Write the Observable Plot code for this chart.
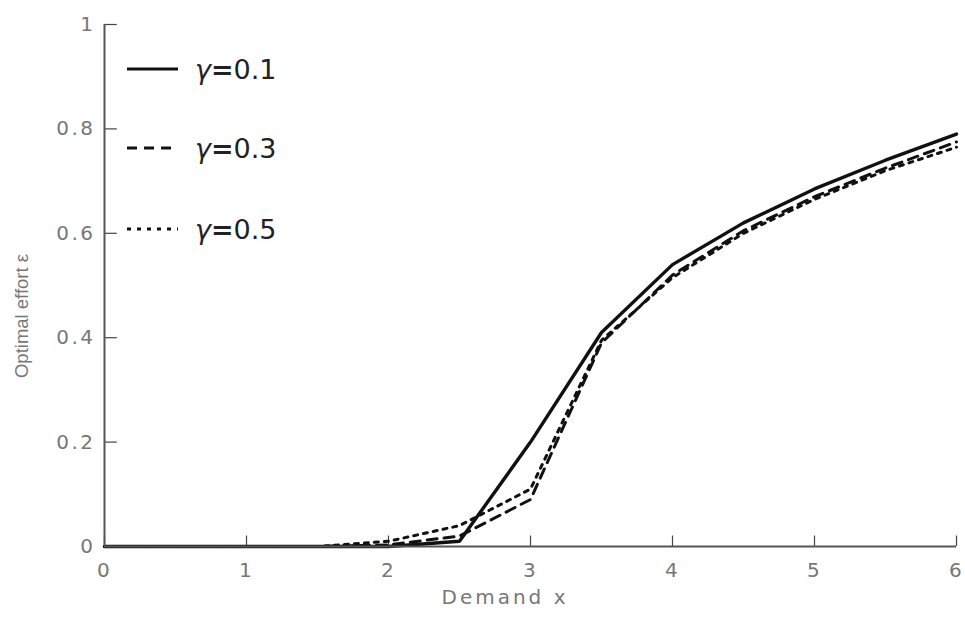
<!DOCTYPE html>
<html><head><meta charset="utf-8">
<script src="https://cdn.jsdelivr.net/npm/d3@7"></script>
<script src="https://cdn.jsdelivr.net/npm/@observablehq/plot@0.6"></script>
<style>
body{margin:0;background:#fff;font-family:"Liberation Sans",Arial,sans-serif;}
#chart{position:relative;width:965px;height:635px;}
</style></head><body><div id="chart"></div>
<script>
const demand = [0, 0.5, 1, 1.5, 2, 2.5, 3, 3.5, 4, 4.5, 5, 5.5, 6];
const effortG01 = [0, 0, 0, 0, 0, 0.01, 0.20, 0.41, 0.54, 0.62, 0.685, 0.74, 0.79];
const effortG03 = [0, 0, 0, 0, 0.003, 0.02, 0.09, 0.39, 0.52, 0.605, 0.67, 0.725, 0.775];
const effortG05 = [0, 0, 0, 0, 0.01, 0.04, 0.11, 0.395, 0.515, 0.60, 0.665, 0.72, 0.765];
const seriesNames = ["γ=0.1", "γ=0.3", "γ=0.5"];
const xTicks = [0, 1, 2, 3, 4, 5, 6];
const yTicks = [0, 0.2, 0.4, 0.6, 0.8, 1];
const yTickLabels = ["0", "0.2", "0.4", "0.6", "0.8", "1"];
const xTitle = "Demand x";
const yTitle = "Optimal effort ε";

const allSeries = [effortG01, effortG03, effortG05];
const dashes = [null, "10,7", "4,6"];
const rows = allSeries.map((vals, i) => demand.map((x, j) => ({x, y: vals[j], s: seriesNames[i]})));

const plot = Plot.plot({
  width: 965, height: 635,
  marginLeft: 104, marginRight: 9, marginTop: 24, marginBottom: 89,
  style: {fontFamily: '"Liberation Sans", Arial, sans-serif', background: "#fff"},
  x: {domain: [0, 6], ticks: xTicks},
  y: {domain: [0, 1], ticks: yTicks},
  marks: [
    Plot.ruleX(xTicks, {x: d => d, y1: 0, y2: 0.02, stroke: "#444", strokeWidth: 1.2}),
    Plot.ruleY(yTicks, {y: d => d, x1: 0, x2: 0.09, stroke: "#444", strokeWidth: 1.2}),
    Plot.axisX({ticks: xTicks, tickSize: 0, tickPadding: 16, tickFormat: d => String(d), label: null}),
    Plot.axisY({ticks: yTicks, tickSize: 0, tickPadding: 9, tickFormat: (d, i) => yTickLabels[i], label: null}),
    ...rows.map((r, i) => Plot.line(r, {x: "x", y: "y", stroke: "#111", strokeWidth: i === 0 ? 3.4 : 3, strokeDasharray: dashes[i], strokeLinejoin: "miter"})),
    Plot.ruleX([0], {stroke: "#555", strokeWidth: 2}),
    Plot.ruleY([0], {stroke: "#555", strokeWidth: 2}),
  ]
});
document.getElementById("chart").appendChild(plot);
const svg = d3.select(plot);

// tick label styling
svg.selectAll("g[aria-label='x-axis tick label'] text, g[aria-label='y-axis tick label'] text")
  .style("font-family", '"DejaVu Sans", sans-serif')
  .style("font-size", "20px")
  .style("letter-spacing", "2.5px")
  .style("fill", "#777");

// axis titles
svg.append("text").attr("x", 505).attr("y", 604).attr("text-anchor", "middle")
  .style("font-family", '"DejaVu Sans", sans-serif').style("font-size", "20px")
  .style("letter-spacing", "3px").style("fill", "#777").text(xTitle);
svg.append("text").attr("transform", "translate(28,316) rotate(-90)").attr("text-anchor", "middle")
  .style("font-family", '"Liberation Sans", Arial, sans-serif').style("font-size", "18.5px")
  .style("fill", "#777").text(yTitle);

// legend in upper-left of plot area
const lg = svg.append("g").attr("aria-label", "legend");
const legY = [69, 148, 229];
seriesNames.forEach((name, i) => {
  lg.append("line").attr("x1", 127).attr("x2", 178).attr("y1", legY[i]).attr("y2", legY[i])
    .attr("stroke", "#111").attr("stroke-width", 3.2).attr("stroke-dasharray", dashes[i]);
  const t = lg.append("text").attr("x", 195).attr("y", legY[i] + 10).attr("text-anchor", "start")
    .style("font-size", "27px").style("fill", "#222").style("font-family", '"DejaVu Sans", sans-serif');
  t.append("tspan").attr("font-style", "italic").text(name.slice(0, 1));
  t.append("tspan").attr("font-weight", "bold").text("=");
  t.append("tspan").text(name.slice(2));
});
</script></body></html>
